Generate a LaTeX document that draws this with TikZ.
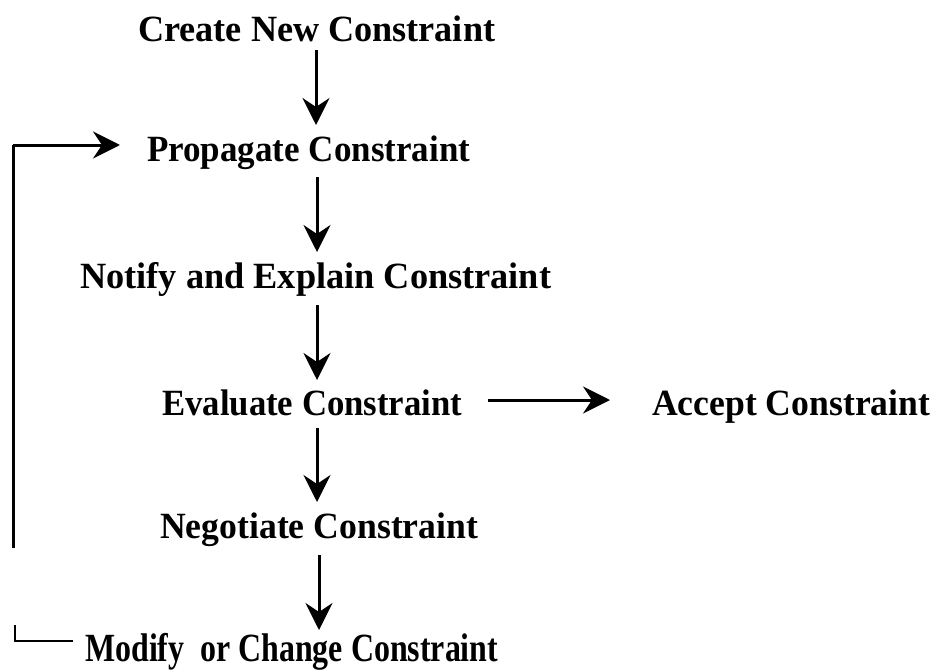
\documentclass[tikz,border=0pt]{standalone}
\usepackage{fontspec}
\setmainfont{Liberation Serif}
\usepackage{graphicx}
\usetikzlibrary{arrows.meta,calc}
\newcommand{\lblw}[2]{\resizebox{#1pt}{\height}{#2}}
\begin{document}
\begin{tikzpicture}[x=1pt,y=1pt,
  lbl/.style={inner sep=0pt,anchor=base west,font=\bfseries\fontsize{37}{44}\selectfont},
  arr/.style={line width=3pt,-{Stealth[length=27pt,width=27pt,inset=9pt]}},
  loopline/.style={line width=3pt},
  thinline/.style={line width=2pt}]
\useasboundingbox (0,0) rectangle (936,-669);
\coordinate (col) at (317,0);
\node[lbl] (create) at (138,-42) {\lblw{357}{Create New Constraint}};
\node[lbl] (propagate) at (147,-161) {\lblw{323}{Propagate Constraint}};
\node[lbl] (notify) at (80,-288) {\lblw{471}{Notify and Explain Constraint}};
\node[lbl] (evaluate) at (162,-415) {\lblw{300}{Evaluate Constraint}};
\node[lbl] (accept) at (652,-415) {\lblw{278}{Accept Constraint}};
\node[lbl] (negotiate) at (160,-538) {\lblw{318}{Negotiate Constraint}};
\node[lbl,font=\bfseries\fontsize{40}{47}\selectfont] (modify) at (85,-661) {\lblw{413}{Modify\ \ or Change Constraint}};
\coordinate (looptop) at (13,-145);
\coordinate (loopbot) at (13,-548);
\coordinate (loopend) at (15,-625);
% vertical flow arrows
\draw[arr] ($(create.base -| col)+(-1,-8)$) -- ($(propagate.base -| col)+(-1,36)$);
\draw[arr] ($(propagate.base -| col)+(0,-16)$) -- ($(notify.base -| col)+(0,36)$);
\draw[arr] ($(notify.base -| col)+(0,-17)$) -- ($(evaluate.base -| col)+(0,35)$);
\draw[arr] ($(evaluate.base -| col)+(0,-13)$) -- ($(negotiate.base -| col)+(0,36)$);
\draw[arr] ($(negotiate.base -| col)+(2,-17)$) -- ($(modify.base -| col)+(2,31)$);
% evaluate -> accept
\draw[arr] ($(evaluate.base east)+(26,15)$) -- ($(accept.base west)+(-42,15)$);
% feedback loop
\draw[loopline] (loopbot) -- (looptop);
\draw[arr] (looptop) -- ($(propagate.base west)+(-27,16)$);
\draw[thinline] (loopend) |- ($(modify.base west)+(-12,20)$);
\end{tikzpicture}
\end{document}
